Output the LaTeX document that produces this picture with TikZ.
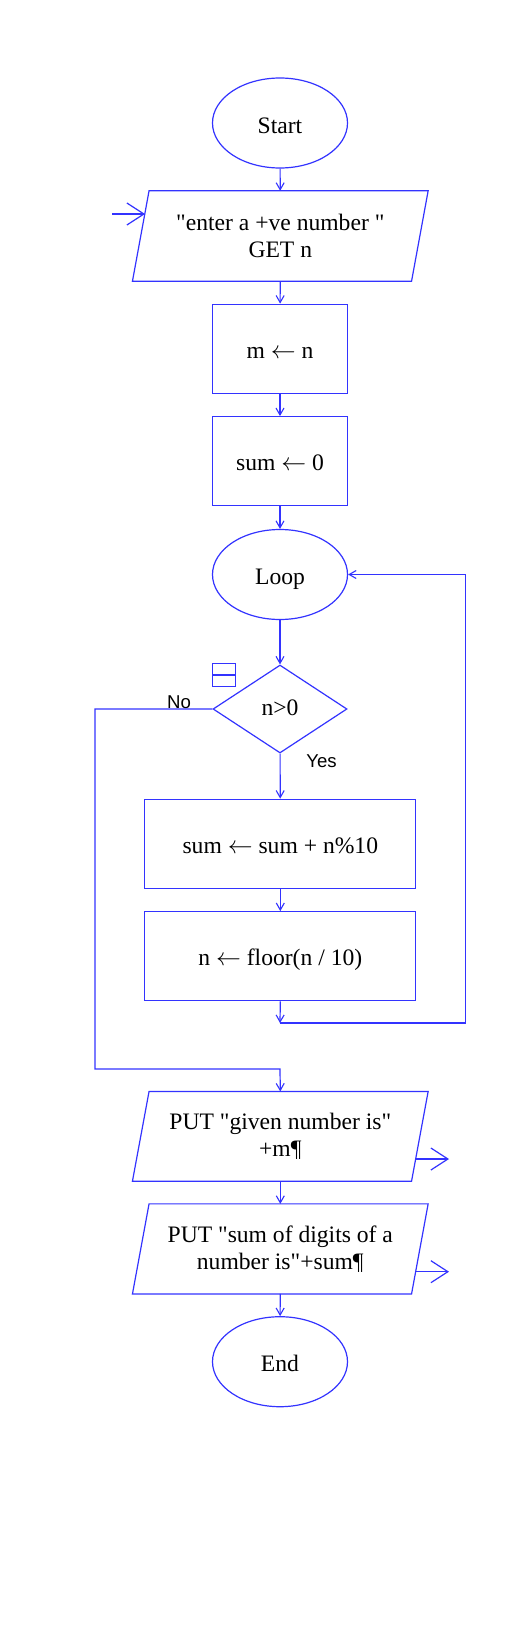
\documentclass[tikz,border=0pt]{standalone}
\usepackage{fontspec}
\setmainfont{Liberation Serif}[Ligatures=TeXOff]
\newfontfamily\labelfont{Liberation Sans}
\usetikzlibrary{shapes.geometric,arrows.meta}
\definecolor{fcblue}{RGB}{51,51,255}
\newcommand{\asg}{$\leftarrow$}
\tikzset{
  ln/.style={draw=fcblue, line width=1.2pt},
  arr/.style={ln, -{Straight Barb[length=7pt,width=8pt,line width=1.1pt]}},
  bigarr/.style={ln, -{Straight Barb[length=17pt,width=22pt,line width=1.2pt]}},
  txt/.style={font=\fontsize{23.6}{27}\selectfont, align=center, text=black},
  term/.style={ln, txt, ellipse, minimum width=135pt, minimum height=90pt, inner sep=0pt, fill=white, text height=22pt, text depth=2pt},
  proc/.style={ln, txt, rectangle, minimum height=89pt, inner sep=0pt, fill=white, text height=21pt, text depth=2pt},
  decis/.style={ln, txt, diamond, minimum width=134pt, minimum height=88pt, inner sep=0pt, aspect=1.52, fill=white, text height=15pt, text depth=2pt},
  io/.style={txt, rectangle, minimum width=278.7pt, minimum height=90pt, inner sep=0pt},
  lbl/.style={font=\labelfont\fontsize{18.6}{20}\selectfont, text=black, inner sep=0pt}
}
\begin{document}
\begin{tikzpicture}[x=1pt,y=-1pt]
\fill[white] (0,0) rectangle (510,1643);
\useasboundingbox (0,0) rectangle (510,1643);

% nodes
\node[term] (start) at (280,123) {Start};
\node[io] (in) at (280.3,236) {"enter a +ve number "\\GET n};
\draw[ln] ([xshift=8.3pt]in.north west) -- ([xshift=8.3pt]in.north east) -- ([xshift=-8.3pt]in.south east) -- ([xshift=-8.3pt]in.south west) -- cycle;
\node[proc, minimum width=135pt] (m) at (280,348.7) {m \asg{} n};
\node[proc, minimum width=135pt] (s0) at (280,461.2) {sum \asg{} 0};
\node[term] (loop) at (280,574.5) {Loop};
\node[decis] (dec) at (280,709) {n>0};
\node[proc, minimum width=271pt] (b3) at (280.3,843.7) {sum \asg{} sum + n\%10};
\node[proc, minimum width=271pt] (b4) at (280.3,956.2) {n \asg{} floor(n / 10)};
\node[io, minimum height=89.3pt] (out1) at (280.3,1136.3) {PUT "given number is"\\+m¶};
\draw[ln] ([xshift=8.3pt]out1.north west) -- ([xshift=8.3pt]out1.north east) -- ([xshift=-8.3pt]out1.south east) -- ([xshift=-8.3pt]out1.south west) -- cycle;
\node[io, minimum height=89.7pt] (out2) at (280.3,1248.9) {PUT "sum of digits of a\\number is"+sum¶};
\draw[ln] ([xshift=8.3pt]out2.north west) -- ([xshift=8.3pt]out2.north east) -- ([xshift=-8.3pt]out2.south east) -- ([xshift=-8.3pt]out2.south west) -- cycle;
\node[term] (end) at (280,1361.7) {End};

% small icon near decision
\draw[ln] (212.3,663.3) rectangle (235.7,686.7);
\draw[ln] (212.3,675) -- (235.7,675);

% labels
\node[lbl, anchor=base] (no) at (179,708) {No};
\node[lbl, anchor=base] (yes) at (321.5,767) {Yes};

% coordinates
\coordinate (ein0) at (112,214);
\coordinate (ein1) at (145,214);
\coordinate (lb1) at (280,1023);
\coordinate (lb2) at (465.7,1023);
\coordinate (nl) at (95,1069);
\coordinate (nj) at (280,1069);
\coordinate (o1a) at (415.2,1159);
\coordinate (o1b) at (449,1159);
\coordinate (o2a) at (415.2,1271.7);
\coordinate (o2b) at (449,1271.7);

% connectors
\draw[arr] (start) -- (in);
\draw[arr] (in) -- (m);
\draw[arr] (m) -- (s0);
\draw[arr] (s0) -- (loop);
\draw[arr] (loop) -- (dec);
\draw[arr] (dec) -- (b3);
\draw[arr] (b3) -- (b4);
\draw[arr] (b4.south) -- (lb1);
\draw[arr] (lb1) -- (lb2) |- (loop.east);
\draw[arr] (dec.west) -| (nl) -- (nj) -- (out1.north);
\draw[arr] (out1) -- (out2);
\draw[arr] (out2) -- (end);
\draw[bigarr] (ein0) -- (ein1);
\draw[bigarr] (o1a) -- (o1b);
\draw[bigarr] (o2a) -- (o2b);
\end{tikzpicture}
\end{document}
